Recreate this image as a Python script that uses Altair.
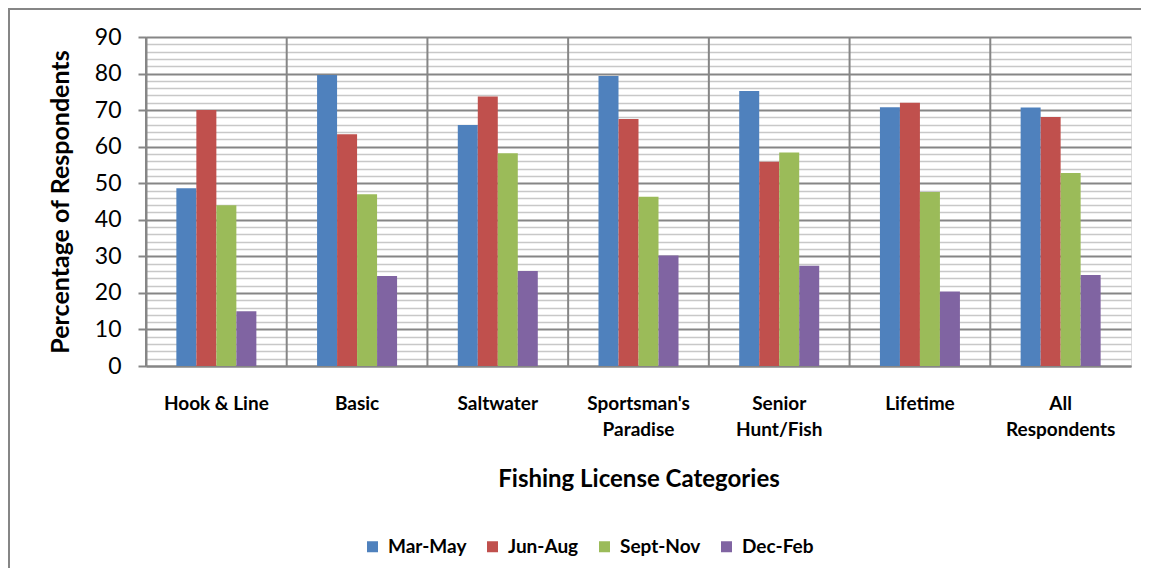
import json
import altair as alt
import pandas as pd

categories = ["Hook & Line", "Basic", "Saltwater", "Sportsman's Paradise",
              "Senior Hunt/Fish", "Lifetime", "All Respondents"]
series = ["Mar-May", "Jun-Aug", "Sept-Nov", "Dec-Feb"]
mar_may = [48.6, 79.6, 65.9, 79.3, 75.2, 70.8, 70.7]
jun_aug = [70.0, 63.4, 73.7, 67.6, 55.9, 72.0, 68.1]
sept_nov = [44.0, 47.0, 58.2, 46.3, 58.4, 47.6, 52.8]
dec_feb = [15.0, 24.6, 26.0, 30.2, 27.4, 20.4, 24.9]
colors = ["#4F81BD", "#C0504D", "#9BBB59", "#8064A2"]

rows = []
for s, vals in zip(series, [mar_may, jun_aug, sept_nov, dec_feb]):
    for c, v in zip(categories, vals):
        rows.append({"category": c, "season": s, "value": v})
df = pd.DataFrame(rows)
cat_df = pd.DataFrame({"category": categories})

label_lines = {
    "Sportsman's Paradise": ["Sportsman's", "Paradise"],
    "Senior Hunt/Fish": ["Senior", "Hunt/Fish"],
    "All Respondents": ["All", "Respondents"],
}
expr = "datum.label"
for k, v in label_lines.items():
    expr = f"datum.label == {json.dumps(k)} ? {json.dumps(v)} : ({expr})"

FONT = "Lato"
GRID = "#868686"
MINOR = "#C8C8C8"

W, H = 985, 329
band = W / len(categories)
bar_w = 20
grp = bar_w * len(series)
off0 = (band - grp) / 2

xscale = alt.Scale(domain=categories, paddingInner=0, paddingOuter=0)
yscale = alt.Scale(domain=[0, 90], nice=False)

xaxis = alt.Axis(title="Fishing License Categories", labelExpr=expr,
                 labelAngle=0, labelFont=FONT, labelFontSize=19,
                 labelFontWeight="bold", labelColor="black",
                 labelPadding=28, labelLineHeight=26, ticks=False,
                 domain=True, domainColor=GRID, domainWidth=2,
                 titleFont=FONT, titleFontSize=24, titleFontWeight="bold",
                 titleColor="black", titlePadding=28, grid=False,
                 labelBaseline="top")

border = alt.Chart(pd.DataFrame({"a": [0]})).mark_rect(
    fill=None, stroke=GRID, strokeWidth=2
).encode(
    x=alt.value(-137), x2=alt.value(1200), y=alt.value(-28), y2=alt.value(900)
)

vrules = alt.Chart(cat_df).mark_rule(color=GRID, strokeWidth=2).encode(
    x=alt.X("category:N", sort=categories, scale=xscale, axis=xaxis, bandPosition=0)
)

minor_vals = [v for v in range(0, 91, 2) if v % 10]
minor = alt.Chart(df).mark_bar(opacity=0).encode(
    x=alt.X("category:N", sort=categories, scale=xscale, axis=xaxis),
    y=alt.Y("value:Q", scale=yscale,
            axis=alt.Axis(values=minor_vals, labels=False, ticks=False, domain=False,
                          grid=True, gridColor=MINOR, gridWidth=1.5, title=None,
                          orient="left")),
)

bars = alt.Chart(df).mark_bar().encode(
    x=alt.X("category:N", sort=categories, scale=xscale, axis=xaxis),
    xOffset=alt.XOffset("season:N", sort=series,
                        scale=alt.Scale(paddingInner=0, paddingOuter=0,
                                        range=[off0, off0 + grp])),
    y=alt.Y("value:Q", scale=yscale,
            axis=alt.Axis(values=list(range(0, 91, 10)), title="Percentage of Respondents",
                          labelFont=FONT, labelFontSize=23, labelColor="black",
                          labelPadding=17, tickSize=8, tickColor=GRID, tickWidth=2,
                          domain=True, domainColor=GRID, domainWidth=2,
                          grid=True, gridColor=GRID, gridWidth=2,
                          titleFont=FONT, titleFontSize=25, titleFontWeight="bold",
                          titleColor="black", titlePadding=21, orient="left")),
    color=alt.Color("season:N", sort=series,
                    scale=alt.Scale(domain=series, range=colors),
                    legend=alt.Legend(title=None, orient="none", direction="horizontal",
                                      legendX=217, legendY=500,
                                      symbolType="square", symbolSize=121,
                                      symbolStrokeWidth=0, labelFont=FONT,
                                      labelFontSize=19, labelFontWeight="bold",
                                      labelColor="black", columnPadding=16,
                                      labelOffset=6)),
)

chart = alt.layer(border, vrules, minor, bars).resolve_axis(y="independent").properties(
    width=W, height=H,
    autosize=alt.AutoSizeParams(type="none"),
    padding={"left": 138, "top": 29, "right": 10, "bottom": 202},
).configure_view(stroke=GRID, strokeWidth=2).configure(background="white")

chart.save("out.html", embed_options={"renderer": "svg", "actions": False})
